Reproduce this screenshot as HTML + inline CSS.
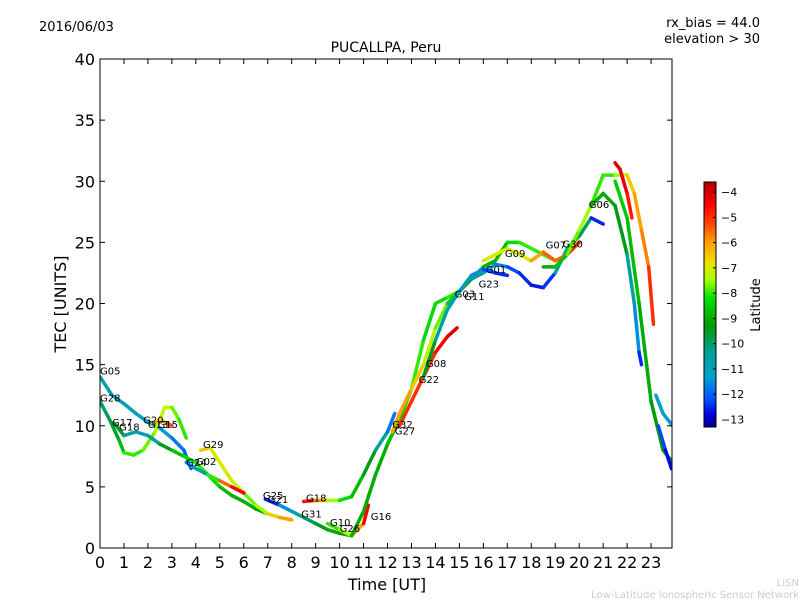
<!DOCTYPE html>
<html><head><meta charset="utf-8"><style>
body{margin:0;background:#fff}
svg text{font-family:"DejaVu Sans","Liberation Sans",sans-serif}
</style></head><body>
<svg id="chart" width="800" height="600" xmlns="http://www.w3.org/2000/svg">
<defs><linearGradient id="jet" x1="0" y1="1" x2="0" y2="0"></linearGradient>
<clipPath id="pc"><rect x="100" y="59" width="572" height="489"/></clipPath></defs>
<text x="39" y="31" font-size="13">2016/06/03</text>
<text x="760" y="27" font-size="13" text-anchor="end">rx_bias = 44.0</text>
<text x="760" y="43" font-size="13" text-anchor="end">elevation &gt; 30</text>
<text x="386" y="52" font-size="14" text-anchor="middle">PUCALLPA, Peru</text>
<g id="marks" clip-path="url(#pc)"></g>
<g id="labels"></g>
<rect x="100" y="59" width="572" height="489" fill="none" stroke="#000"/>
<g id="axes"></g>
<text x="387" y="590" font-size="16" text-anchor="middle">Time [UT]</text>
<text transform="translate(66,304) rotate(-90)" font-size="16" text-anchor="middle">TEC [UNITS]</text>
<rect x="704" y="182" width="12" height="245" fill="url(#jet)" stroke="#000"/>
<g id="cbticks"></g>
<text transform="translate(760,305) rotate(-90)" font-size="13" text-anchor="middle">Latitude</text>
<text x="799" y="586" font-size="10" fill="#ccc" text-anchor="end">LISN</text>
<text x="799" y="598" font-size="10" fill="#ccc" text-anchor="end">Low-Latitude Ionospheric Sensor Network</text>
</svg>
<script>
const xTicks=[0,1,2,3,4,5,6,7,8,9,10,11,12,13,14,15,16,17,18,19,20,21,22,23];
const yTicks=[0,5,10,15,20,25,30,35,40];
const cbTicks=[-4,-5,-6,-7,-8,-9,-10,-11,-12,-13];
const latMin=-13.3, latMax=-3.6;
const cmapLat=[-13.3,-12.8,-12.2,-11.3,-10.3,-9.3,-8.2,-7.5,-6.8,-6,-5.2,-4.5,-3.6];
const cmapCol=[[0,0,144],[0,0,221],[0,80,255],[0,160,208],[0,160,144],[0,154,0],[0,224,0],[160,255,0],[240,224,0],[255,160,0],[255,64,0],[255,0,0],[176,0,0]];
const tracks={
G05:[[0,14,-10.5],[0.5,12.5,-10.8],[1,11.8,-11],[1.5,11,-11],[2,10.3,-11.2],[2.5,9.8,-11.3],[3,9,-11.5],[3.5,8,-12],[3.8,6.5,-12]],
G28:[[0,12,-10],[0.4,10.5,-10],[0.8,8.8,-9.5],[1,7.8,-8],[1.4,7.6,-8],[1.8,8,-8],[2.3,9.5,-7.5],[2.7,11.5,-7],[3,11.5,-7.5],[3.3,10.5,-8],[3.6,9,-8]],
G17:[[0.6,10.2,-9],[1,9.2,-10],[1.5,9.5,-11],[2,9.2,-11],[2.5,8.5,-10],[3,8,-9],[3.5,7.5,-8.5],[4,7,-8],[4.5,6,-8],[5,5,-8.5],[5.5,4.3,-9],[6,3.8,-9],[6.5,3.2,-9],[7,2.8,-9.5]],
G13:[[2.2,10.2,-6],[2.5,10.5,-7],[2.8,10.2,-6],[3,10,-4.5]],
G29:[[4.2,8,-6],[4.6,8.2,-7],[5,7,-7],[5.5,5.5,-7],[6,4.5,-7.5],[6.5,3.5,-8],[7,2.8,-7],[7.5,2.5,-6],[8,2.3,-6]],
G02:[[3.6,7,-12],[4,6.5,-11],[4.5,6,-10],[5,5.5,-6],[5.5,5,-5],[6,4.5,-4]],
G25:[[6.9,4,-13],[7.5,3.5,-12],[8,3,-11],[8.5,2.5,-10],[9,2,-10],[9.5,1.5,-9],[10,1.2,-9],[10.5,1,-10]],
G18:[[8.5,3.8,-4.5],[9,3.9,-5],[9.5,3.9,-7],[10,3.9,-8],[10.5,4.2,-8.5],[11,6,-9],[11.5,8,-10],[12,9.5,-11],[12.3,11,-12.5]],
G10:[[9.5,2,-8],[10,1.5,-8],[10.5,1,-7],[11,2,-5],[11.2,3.5,-4]],
G16:[[10.5,1,-9],[11,3,-9],[11.5,6,-9],[12,8.5,-9],[12.5,10.5,-8.5],[13,13,-8],[13.5,17,-8],[14,20,-8.5],[14.5,20.5,-8],[15,21,-8],[15.5,22,-8.5],[16,23,-9],[16.5,23.5,-9],[17,25,-8.5],[17.5,25,-8],[18,24.5,-8],[18.5,24,-8],[19,23.5,-8]],
G22:[[12.2,9.5,-6],[12.5,11,-6],[13,13,-6],[13.5,15,-7],[14,18,-7.5],[14.5,20,-8],[15,21,-9],[15.5,22,-10],[16,22.5,-11],[16.5,23.2,-11.5],[17,23,-12],[17.5,22.5,-12.5],[18,21.5,-12.5],[18.5,21.3,-12.8],[19,22.5,-12],[19.5,24.5,-9],[20,25.5,-8],[20.5,27,-12],[21,26.5,-13]],
G27:[[12.5,10,-5],[13,12,-5],[13.5,14,-5],[14,16,-5],[14.5,17.3,-4],[14.9,18,-4]],
G11:[[13.5,14,-9],[14,17,-10],[14.5,19.5,-11],[15,21,-11],[15.5,22.3,-11],[16,22.8,-12],[16.5,22.5,-12.5],[17,22.3,-12.5]],
G09:[[16,23.5,-7],[16.5,24,-7],[17,24.5,-7],[17.5,24,-7],[18,23.5,-7],[18.5,24.2,-5],[19,23.5,-6],[19.5,24,-5],[20,25,-5]],
G06:[[18.5,23,-9],[19,23,-9],[19.5,24,-8.5],[20,26,-7],[20.5,28,-8],[21,30.5,-8],[21.5,30.5,-8],[22,30.5,-7],[22.3,29,-6],[22.6,26,-6],[22.9,23,-5.5],[23.1,18.3,-4.5]],
G06b:[[20.5,28,-9],[21,29,-9],[21.5,28,-9],[22,24,-10],[22.3,20,-11],[22.5,16,-12],[22.6,15,-13]],
G06c:[[21.5,31.5,-4],[21.7,31,-4],[22,29,-4.5],[22.2,27,-5]],
G06d:[[21.5,30,-8.5],[22,27,-8.5],[22.5,20,-9],[23,12,-9],[23.5,8,-9.5],[23.9,7,-9]],
G12:[[23.2,12.5,-11.5],[23.5,11,-11],[23.9,10,-11.5]],
G19:[[23.3,10,-12],[23.6,8,-12.5],[23.85,6.5,-13]]
};
const labelText=["G05","G28","G17","G18","G20","G13","G15","G29","G24","G02","G25","G21","G18","G31","G10","G26","G16","G32","G27","G22","G08","G03","G11","G23","G01","G09","G07","G30","G06"];
const labelT=[0,0,0.5,0.8,1.8,2.0,2.4,4.3,3.6,4.0,6.8,7.0,8.6,8.4,9.6,10.0,11.3,12.2,12.3,13.3,13.6,14.8,15.2,15.8,16.1,16.9,18.6,19.3,20.4];
const labelV=[14.2,12,10,9.6,10.2,9.8,9.8,8.2,6.7,6.8,4,3.7,3.8,2.5,1.8,1.3,2.3,9.8,9.3,13.5,14.8,20.5,20.3,21.3,22.5,23.8,24.5,24.6,27.8];
const X=t=>100+t*23.96, Y=v=>548-v*12.225;
const ns="http://www.w3.org/2000/svg";
function cmap(lat){if(lat<=cmapLat[0])return `rgb(${cmapCol[0]})`;
for(let i=0;i<cmapLat.length-1;i++){if(lat<=cmapLat[i+1]){const f=(lat-cmapLat[i])/(cmapLat[i+1]-cmapLat[i]);
const c=cmapCol[i].map((v,j)=>Math.round(v+(cmapCol[i+1][j]-v)*f));return `rgb(${c})`;}}
return `rgb(${cmapCol[cmapCol.length-1]})`;}
const grad=document.getElementById('jet');
cmapLat.forEach((l,i)=>{const s=document.createElementNS(ns,'stop');s.setAttribute('offset',(l-latMin)/(latMax-latMin));s.setAttribute('stop-color',`rgb(${cmapCol[i]})`);grad.appendChild(s);});
const marks=document.getElementById('marks');
for(const k in tracks){const p=tracks[k];const g=document.createElementNS(ns,'g');


for(let i=0;i<p.length-1;i++){const l=document.createElementNS(ns,'line');
l.setAttribute('x1',X(p[i][0]));l.setAttribute('y1',Y(p[i][1]));l.setAttribute('x2',X(p[i+1][0]));l.setAttribute('y2',Y(p[i+1][1]));
l.setAttribute('stroke',cmap((p[i][2]+p[i+1][2])/2));l.setAttribute('stroke-width','3.5');l.setAttribute('stroke-linecap','round');


g.appendChild(l);}
marks.appendChild(g);}
const lg=document.getElementById('labels');
labelText.forEach((s,i)=>{const t=document.createElementNS(ns,'text');t.setAttribute('x',X(labelT[i]));t.setAttribute('y',Y(labelV[i]));t.setAttribute('font-size','10');t.textContent=s;


lg.appendChild(t);});
const ax=document.getElementById('axes');
xTicks.forEach(v=>{const l=document.createElementNS(ns,'path');l.setAttribute('d',`M${X(v)},548v-5M${X(v)},59v5`);l.setAttribute('stroke','#000');


ax.appendChild(l);const t=document.createElementNS(ns,'text');t.setAttribute('x',X(v));t.setAttribute('y',568);t.setAttribute('font-size','16');t.setAttribute('text-anchor','middle');t.textContent=v;


ax.appendChild(t);});
yTicks.forEach(v=>{const l=document.createElementNS(ns,'path');l.setAttribute('d',`M100,${Y(v)}h5M672,${Y(v)}h-5`);l.setAttribute('stroke','#000');


ax.appendChild(l);const t=document.createElementNS(ns,'text');t.setAttribute('x',95);t.setAttribute('y',Y(v)+6);t.setAttribute('font-size','16');t.setAttribute('text-anchor','end');t.textContent=v;


ax.appendChild(t);});
const cb=document.getElementById('cbticks');
cbTicks.forEach(v=>{const y=182+(latMax-v)/(latMax-latMin)*245;const l=document.createElementNS(ns,'path');l.setAttribute('d',`M716,${y}h-3`);l.setAttribute('stroke','#000');


cb.appendChild(l);const t=document.createElementNS(ns,'text');t.setAttribute('x',721);t.setAttribute('y',y+4);t.setAttribute('font-size','11');t.textContent='\u2212'+(-v);


cb.appendChild(t);});
</script>
</body></html>
